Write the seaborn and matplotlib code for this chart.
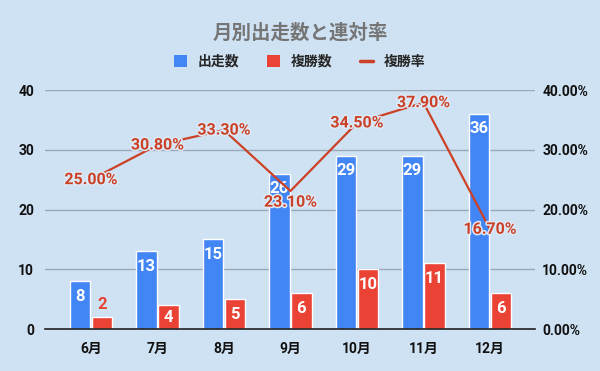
import numpy as np
import pandas as pd
import matplotlib
matplotlib.use("Agg")
import matplotlib.pyplot as plt
import matplotlib.patheffects as pe
from matplotlib.ticker import FuncFormatter, MultipleLocator
from matplotlib.lines import Line2D
from matplotlib.patches import Patch
import seaborn as sns

months = ["6月", "7月", "8月", "9月", "10月", "11月", "12月"]
starts = [8, 13, 15, 26, 29, 29, 36]
places = [2, 4, 5, 6, 10, 11, 6]
place_rate = [25.00, 30.80, 33.30, 23.10, 34.50, 37.90, 16.70]

BG = "#cfe2f3"
BLUE = "#4285f4"
RED = "#ea4335"
LINE = "#cc4125"

sns.set_theme(style="white")
FAM = ["Roboto", "Noto Sans CJK JP", "DejaVu Sans"]
plt.rcParams["font.family"] = FAM

fig = plt.figure(figsize=(6, 3.71), dpi=100, facecolor=BG)
ax = fig.add_axes([0.075, 0.1132, 0.817, 0.644])
ax.set_facecolor(BG)

df = pd.DataFrame({
    "month": months * 2,
    "value": starts + places,
    "series": ["出走数"] * len(months) + ["複勝数"] * len(months),
})
sns.barplot(data=df, x="month", y="value", hue="series", order=months,
            palette={"出走数": BLUE, "複勝数": RED}, width=0.66, gap=0.06,
            saturation=1, ax=ax, legend=False, zorder=2)

ax.set_ylim(0, 40)
ax.set_xlim(-0.69, 6.68)
ax.yaxis.set_major_locator(MultipleLocator(10))
ax.grid(axis="y", color="#9aa8b8", linewidth=1, zorder=0)
ax.set_axisbelow(True)
for s in ["top", "right", "left"]:
    ax.spines[s].set_visible(False)
ax.spines["bottom"].set_color("#222222")
ax.spines["bottom"].set_linewidth(1.2)
ax.set_xlabel("")
ax.set_ylabel("")
ax.tick_params(axis="both", length=0, labelsize=10, colors="#111111")
ax.tick_params(axis="x", pad=9)
ax.tick_params(axis="y", pad=8)
for lab in ax.get_xticklabels() + ax.get_yticklabels():
    lab.set_fontweight("bold")

# bar value labels
h_px = ax.get_window_extent().height / 40.0  # pixels per unit
for container, vals, col in zip(ax.containers, [starts, places], [BLUE, RED]):
    for bar, v in zip(container.patches, vals):
        x = bar.get_x() + bar.get_width() / 2
        height_px = v * h_px
        if height_px < 18:
            ax.annotate(str(v), (x, v), xytext=(0, 13 * 0.72), textcoords="offset points",
                        ha="center", va="center", color=col, fontsize=12, fontweight="bold",
                        zorder=4)
        else:
            off = min(15, height_px / 2)
            ax.annotate(str(v), (x, v), xytext=(0, -off * 0.72), textcoords="offset points",
                        ha="center", va="center", color="white", fontsize=12, fontweight="bold",
                        zorder=4)

# line on secondary axis
ax2 = ax.twinx()
ax2.set_ylim(0, 40)
xs = np.arange(len(months))
sns.lineplot(x=xs, y=place_rate, ax=ax2, color=LINE, linewidth=1.6, zorder=3)
ax2.set_xlim(-0.69, 6.68)
for s in ["top", "right", "left", "bottom"]:
    ax2.spines[s].set_visible(False)
ax2.yaxis.set_major_locator(MultipleLocator(10))
ax2.yaxis.set_major_formatter(FuncFormatter(lambda v, p: f"{v:.2f}%"))
ax2.tick_params(axis="y", length=0, labelsize=10, colors="#111111", pad=5)
for lab in ax2.get_yticklabels():
    lab.set_fontweight("bold")
ax2.grid(False)

halo = [pe.withStroke(linewidth=2.2, foreground="#dde9f6")]
for i, r in enumerate(place_rate):
    dy = 0
    if 0 < i < len(place_rate) - 1 and r < place_rate[i - 1] and r < place_rate[i + 1]:
        dy = -8
    ax2.annotate(f"{r:.2f}%", (i, r), xytext=(0, dy), textcoords="offset points",
                 ha="center", va="center", color=LINE, fontsize=11.5, fontweight="bold",
                 path_effects=halo, zorder=5)

fig.text(0.5, 0.911, "月別出走数と連対率", ha="center", va="center",
         fontsize=14, fontweight="bold", color="#757575")

handles = [Patch(facecolor=BLUE, edgecolor="none"),
           Patch(facecolor=RED, edgecolor="none"),
           Line2D([0], [0], color=LINE, linewidth=2.5)]
fig.legend(handles, ["出走数", "複勝数", "複勝率"], loc="center", bbox_to_anchor=(0.5, 0.833),
           ncol=3, frameon=False, handlelength=0.9, handleheight=0.9,
           handletextpad=0.8, columnspacing=2.0,
           prop={"family": FAM, "weight": "bold", "size": 10})

fig.savefig("out.png", dpi=100, facecolor=BG)
